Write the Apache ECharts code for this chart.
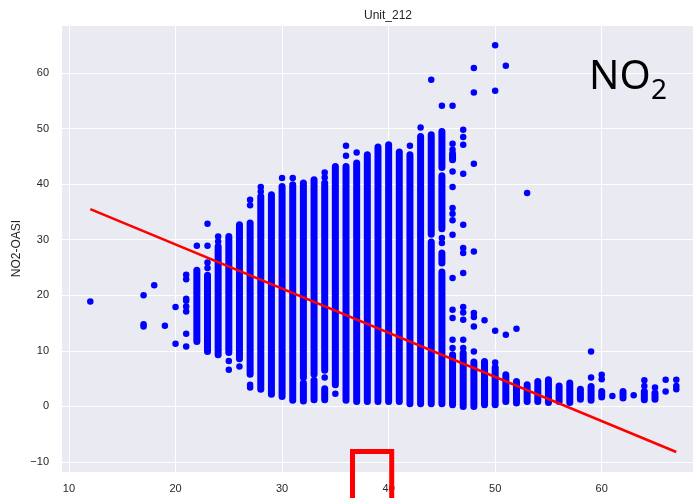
<!DOCTYPE html>
<html>
<head>
<meta charset="utf-8">
<script src="https://cdn.jsdelivr.net/npm/echarts@6/dist/echarts.min.js"></script>
<style>
  html, body { margin: 0; padding: 0; background: #ffffff; }
  #chart { width: 693px; height: 498px; }
</style>
</head>
<body>
<div id="chart"></div>
<script>
// Temperature bins (x) against NO2-OASI readings (y).
// Densely packed readings at one x value are kept as [x, low, high] runs.
const denseRuns = [
  [22, 11.7, 24.5], [23, 9.9, 23.6], [24, 9.3, 28.8], [25, 9.7, 30.6],
  [26, 8.6, 32.7], [27, 5.8, 33.0], [28, 3.1, 37.8], [29, 2.2, 38.1],
  [30, 1.8, 39.6], [31, 1.1, 39.9],
  [32, 5.2, 40.2], [32, 1.0, 4.2],
  [33, 5.8, 40.8], [33, 1.2, 4.7],
  [34, 6.5, 40.2], [34, 1.2, 3.2],
  [35, 3.9, 43.2], [36, 1.1, 43.2], [37, 0.9, 43.8], [38, 0.9, 45.3],
  [39, 0.9, 46.7], [40, 0.9, 47.1], [41, 0.9, 45.8], [42, 0.5, 45.3],
  [43, 0.5, 48.6],
  [44, 31.0, 48.9], [44, 0.5, 29.6],
  [45, 43.0, 49.5], [45, 32.0, 41.5], [45, 25.8, 27.6], [45, 0.5, 24.2],
  [46, 44.4, 45.5], [46, 0.3, 9.3],
  [47, 0.0, 9.6],
  [48, 0.0, 8.0],
  [49, 0.3, 8.1], [50, 0.3, 7.0], [51, 0.9, 5.7], [52, 0.6, 4.5],
  [53, 0.9, 3.9], [54, 0.9, 4.5], [55, 0.7, 4.8], [56, 0.9, 3.7],
  [57, 0.7, 4.2], [58, 1.3, 3.1], [59, 1.1, 3.6], [60, 1.7, 2.7],
  [62, 1.5, 2.7], [64, 1.2, 2.7], [65, 1.3, 2.4]
];

// Individual readings outside the dense runs: [x, y]
const singlePoints = [
  [12, 18.9],
  [17, 20.0], [17, 14.8], [17, 14.4],
  [18, 21.8], [19, 14.5],
  [20, 17.9], [20, 11.3],
  [21, 23.7], [21, 22.9], [21, 19.4], [21, 19.0], [21, 18.0], [21, 17.1], [21, 13.1], [21, 10.8],
  [22, 28.9],
  [23, 32.9], [23, 28.9], [23, 25.9], [23, 24.9],
  [24, 30.6], [24, 29.7],
  [25, 8.2], [25, 6.6],
  [26, 7.2],
  [27, 37.2], [27, 36.2], [27, 3.9], [27, 3.4],
  [28, 39.5], [28, 38.7],
  [30, 41.1], [31, 41.1],
  [34, 42.1], [34, 41.2], [34, 5.2],
  [35, 2.3],
  [36, 46.9], [36, 45.1],
  [37, 45.7],
  [42, 46.9], [43, 50.2],
  [44, 58.8],
  [45, 54.1], [45, 30.3], [45, 29.4],
  [46, 54.1], [46, 47.3], [46, 46.2], [46, 42.3], [46, 39.5], [46, 35.7], [46, 34.7],
  [46, 33.5], [46, 30.9], [46, 23.1], [46, 17.4], [46, 15.9], [46, 12.0], [46, 10.5],
  [47, 49.8], [47, 48.5], [47, 47.1], [47, 41.9], [47, 32.7], [47, 28.5], [47, 27.6],
  [47, 24.0], [47, 17.9], [47, 16.9], [47, 15.6], [47, 12.0], [47, 10.5],
  [48, 60.9], [48, 56.5], [48, 43.7], [48, 27.9], [48, 16.8], [48, 16.1], [48, 14.4], [48, 9.9],
  [49, 15.5],
  [50, 65.0], [50, 56.8], [50, 13.6], [50, 7.9],
  [51, 61.3], [51, 12.9],
  [52, 14.0],
  [53, 38.4],
  [59, 9.9], [59, 5.2],
  [60, 5.7], [60, 4.9],
  [61, 1.9], [63, 2.0],
  [64, 4.7], [64, 3.7],
  [65, 3.4],
  [66, 4.8], [66, 2.7],
  [67, 4.8], [67, 3.7], [67, 3.1]
];

// Least-squares fit line end points
const fitX = [12, 67];
const fitY = [35.5, -8.2];

// Labelled tick values
const xTicks = [10, 20, 30, 40, 50, 60];
const yTicks = [-10, 0, 10, 20, 30, 40, 50, 60];

const TEXT = '#262626';
const FONT = '"Liberation Sans", Arial, sans-serif';

const chart = echarts.init(document.getElementById('chart'), null, { renderer: 'canvas' });

chart.setOption({
  animation: false,
  backgroundColor: '#ffffff',
  title: {
    text: 'Unit_212',
    left: 383,
    top: 5,
    textAlign: 'center',
    textStyle: { fontFamily: FONT, fontSize: 12, fontWeight: 'normal', color: TEXT }
  },
  grid: {
    left: 61,
    top: 25,
    width: 644.6,
    height: 447,
    outerBoundsMode: 'none',
    containLabel: false,
    show: true,
    backgroundColor: '#EAEAF2',
    borderWidth: 0
  },
  xAxis: {
    type: 'value',
    min: 9.25,
    max: 69.75,
    splitNumber: 6,
    axisLine: { show: false },
    axisTick: { show: false },
    splitLine: { show: true, lineStyle: { color: '#ffffff', width: 1 } },
    axisLabel: {
      color: TEXT, fontFamily: FONT, fontSize: 11, margin: 11,
      showMinLabel: true, showMaxLabel: true,
      formatter: v => (xTicks.indexOf(v) >= 0 ? String(v) : '')
    }
  },
  yAxis: {
    type: 'value',
    min: -11.8,
    max: 68.65,
    splitNumber: 8,
    name: 'NO2-OASI',
    nameLocation: 'middle',
    nameGap: 38,
    nameMoveOverlap: false,
    nameRotate: 90,
    nameTextStyle: { color: TEXT, fontFamily: FONT, fontSize: 12 },
    axisLine: { show: false },
    axisTick: { show: false },
    splitLine: { show: true, lineStyle: { color: '#ffffff', width: 1 } },
    axisLabel: {
      color: TEXT, fontFamily: FONT, fontSize: 11, margin: 12,
      showMinLabel: true, showMaxLabel: true,
      formatter: v => (yTicks.indexOf(v) >= 0 ? (v < 0 ? '\u2212' + Math.abs(v) : String(v)) : '')
    }
  },
  series: [
    {
      type: 'custom',
      name: 'runs',
      data: denseRuns,
      encode: { x: 0, y: [1, 2] },
      clip: true,
      z: 2,
      renderItem: (params, api) => {
        const a = api.coord([api.value(0), api.value(1)]);
        const b = api.coord([api.value(0), api.value(2)]);
        return {
          type: 'line',
          shape: { x1: a[0], y1: a[1], x2: b[0], y2: b[1] },
          style: { stroke: '#0000ff', lineWidth: 7, lineCap: 'round' }
        };
      }
    },
    {
      type: 'scatter',
      name: 'points',
      data: singlePoints,
      symbol: 'circle',
      symbolSize: 6.5,
      itemStyle: { color: '#0000ff', opacity: 1 },
      z: 3
    },
    {
      type: 'line',
      name: 'fit',
      data: fitX.map((x, i) => [x, fitY[i]]),
      symbol: 'none',
      lineStyle: { color: '#ff0000', width: 2.5 },
      z: 4
    }
  ],
  graphic: [
    {
      type: 'text',
      z: 100,
      style: { text: 'NO', x: 589, y: 98, verticalAlign: 'bottom', font: '40px "Noto Sans", sans-serif', fill: '#000000' }
    },
    {
      type: 'text',
      z: 100,
      style: { text: '2', x: 651, y: 105, verticalAlign: 'bottom', font: '28px "Noto Sans", sans-serif', fill: '#000000' }
    },
    {
      type: 'rect',
      z: 100,
      shape: { x: 352.5, y: 451.5, width: 39.2, height: 80 },
      style: { fill: 'none', stroke: '#ff0000', lineWidth: 5 }
    }
  ]
});
</script>
</body>
</html>
